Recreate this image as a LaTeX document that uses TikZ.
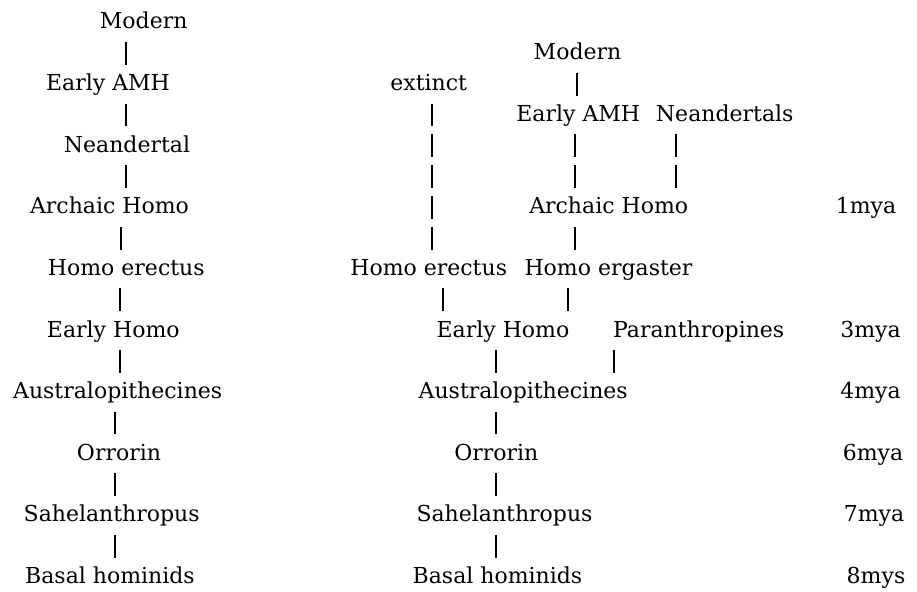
\documentclass[tikz,border=0pt]{standalone}
\usepackage{fontspec}
\setmainfont{DejaVu Serif}
\usetikzlibrary{calc}

\tikzset{
  taxon/.style={anchor=base, inner sep=0pt, font=\fontsize{22}{26}\selectfont},
  link/.style={line width=1.2pt, dash pattern=on 22.8pt off 8pt},
}

\begin{document}
\begin{tikzpicture}[x=1pt, y=-1pt]
\useasboundingbox (0,0) rectangle (917,591);

% left: one line of descent
\foreach \nm/\x/\k/\txt in {modL/143.7/0/Modern, amhL/108/2/Early AMH,
    neaL/127/4/Neandertal, arcL/109.5/6/Archaic Homo, ereL/126.3/8/Homo erectus,
    ehoL/113.3/10/Early Homo, ausL/117.7/12/Australopithecines, orrL/119/14/Orrorin,
    sahL/111.7/16/Sahelanthropus, basL/110/18/Basal hominids}
  \node[taxon] (\nm) at (\x,{29+30.8*\k}) {\txt};

% right: branching tree
\foreach \nm/\x/\k/\txt in {modR/577.5/1/Modern, extR/428.7/2/extinct,
    amhR/578.3/3/Early AMH, neaR/724.7/3/Neandertals, arcR/608.7/6/Archaic Homo,
    ereR/428.7/8/Homo erectus, ergR/608.5/8/Homo ergaster, ehoR/503/10/Early Homo,
    parR/698.7/10/Paranthropines, ausR/523.2/12/Australopithecines,
    orrR/496.3/14/Orrorin, sahR/504.5/16/Sahelanthropus, basR/497.5/18/Basal hominids}
  \node[taxon] (\nm) at (\x,{29+30.8*\k}) {\txt};

% dates
\foreach \nm/\x/\k/\txt in {d1/866/6/1mya, d3/870.5/10/3mya, d4/870.5/12/4mya,
    d6/873/14/6mya, d7/874/16/7mya, d8/876/18/8mys}
  \node[taxon] (\nm) at (\x,{29+30.8*\k}) {\txt};

% bars between taxa
\foreach \a/\b/\c in {modL/amhL/126, amhL/neaL/126, neaL/arcL/126, arcL/ereL/121,
    ereL/ehoL/120, ehoL/ausL/120, ausL/orrL/115, orrL/sahL/115, sahL/basL/115,
    modR/amhR/577, extR/ereR/432, amhR/arcR/575, neaR/arcR/676, arcR/ergR/575,
    ereR/ehoR/443, ergR/ehoR/568, ehoR/ausR/496, parR/ausR/614, ausR/orrR/496,
    orrR/sahR/496, sahR/basR/496}
  \draw[link] ($(\a.base -| \c,0)+(0,13)$) -- ($(\b.base -| \c,0)+(0,-25.8)$);
\end{tikzpicture}
\end{document}
